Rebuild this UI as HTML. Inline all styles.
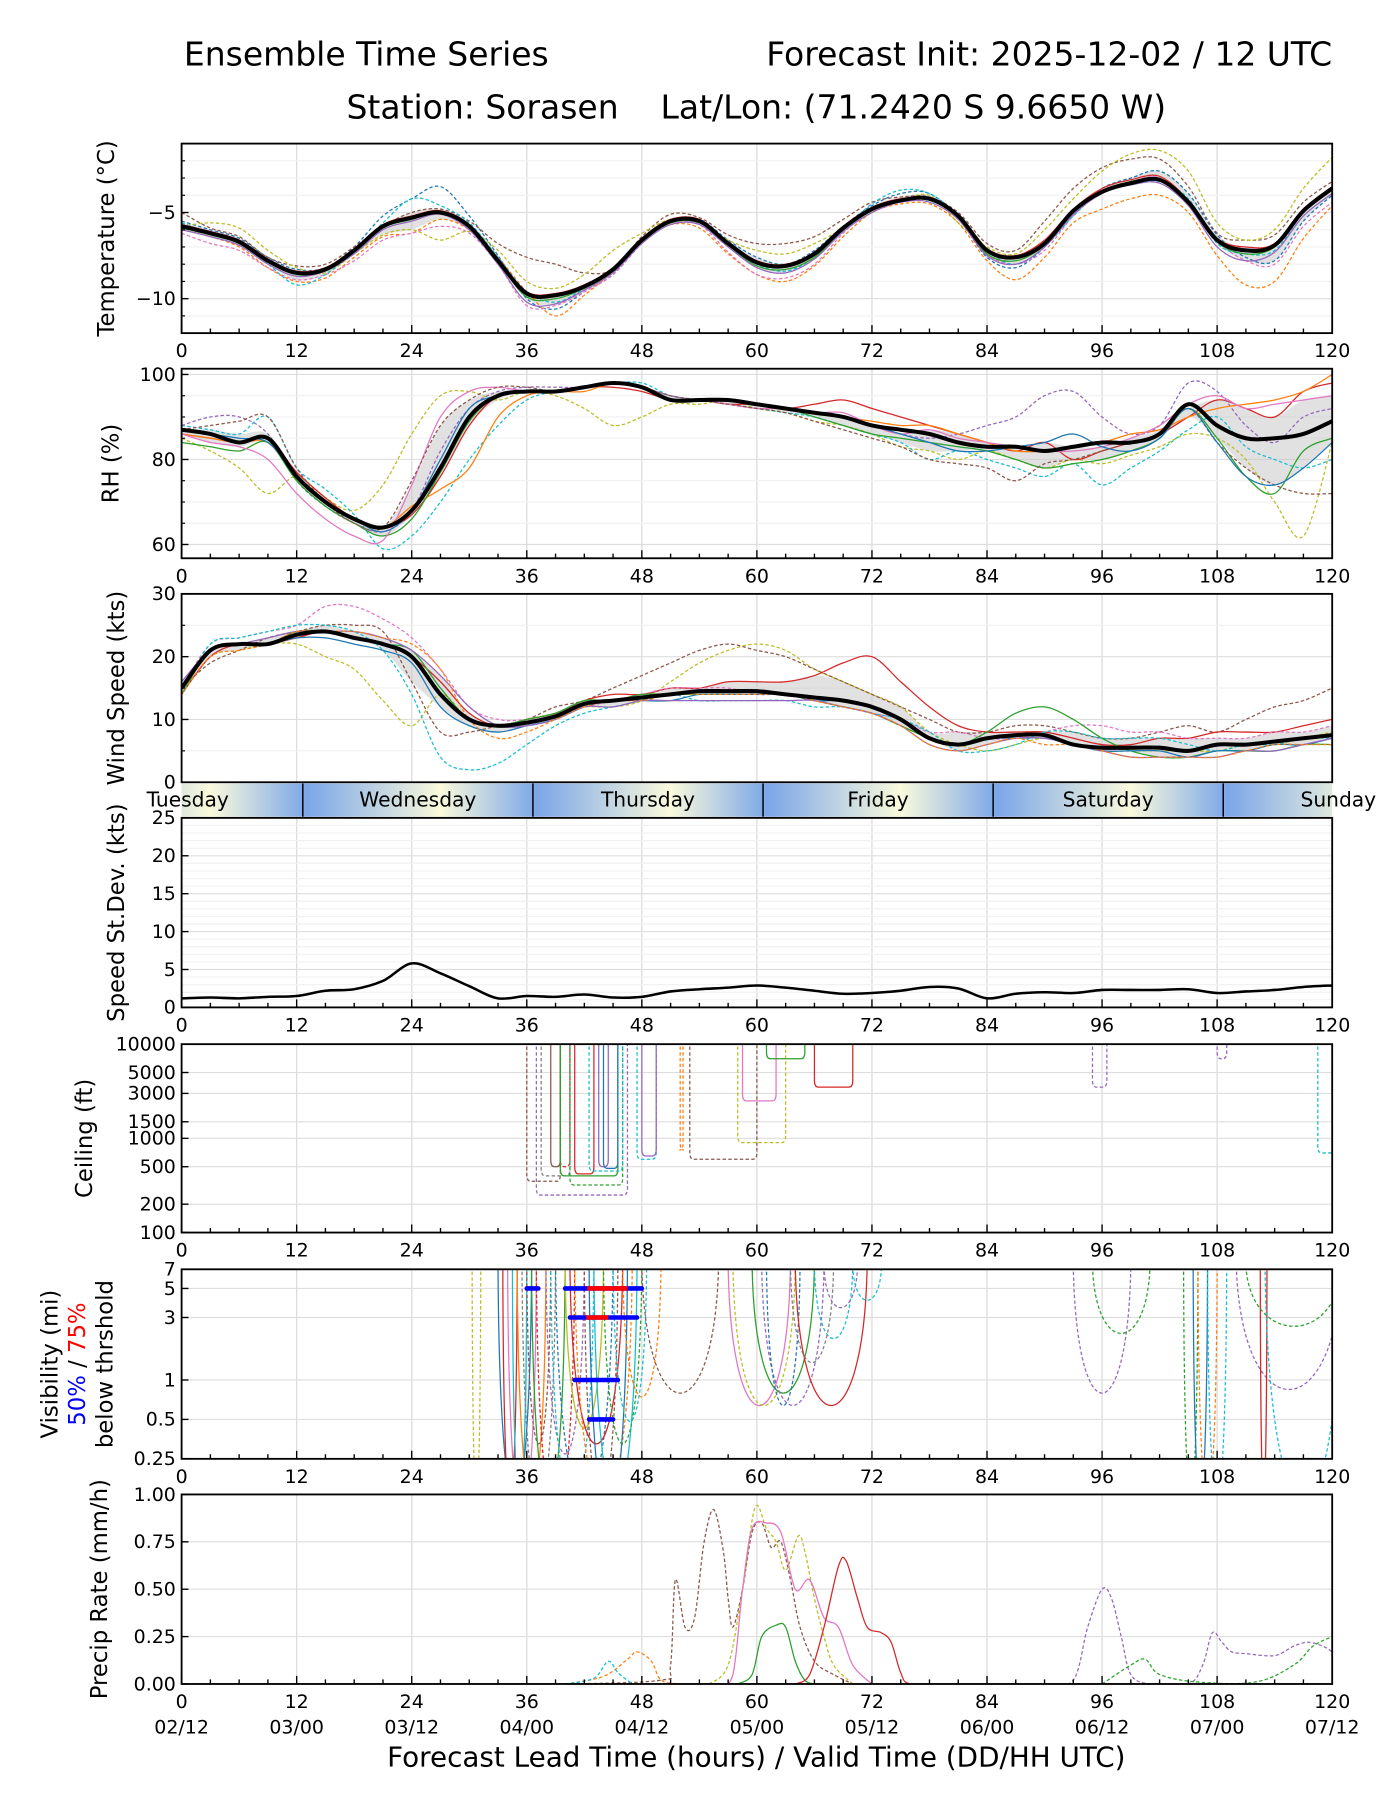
<!DOCTYPE html>
<html><head><meta charset="utf-8"><title>Ensemble Time Series</title>
<style>
html,body{margin:0;padding:0;background:#fff;}
svg{display:block;font-family:"DejaVu Sans","Liberation Sans",sans-serif;}
</style></head>
<body>
<svg id="chart" width="1400" height="1800" viewBox="0 0 1218 1567" preserveAspectRatio="none" xmlns="http://www.w3.org/2000/svg">
<defs>
<linearGradient id="dayGrad" gradientUnits="userSpaceOnUse" x1="0" y1="0" x2="200.2" y2="0" spreadMethod="repeat" gradientTransform="translate(183)">
<stop offset="0" stop-color="#fafadc"/><stop offset="0.42" stop-color="#7ba6e8"/><stop offset="1" stop-color="#fafadc"/>
</linearGradient>
</defs>
<text x="160" y="57" font-size="28.7">Ensemble Time Series</text>
<text x="1159" y="57" font-size="28.7" text-anchor="end">Forecast Init: 2025-12-02 / 12 UTC</text>
<text x="658" y="103" font-size="28.7" text-anchor="middle">Station: Sorasen&#160;&#160;&#160;&#160;Lat/Lon: (71.2420 S 9.6650 W)</text>
<g id="root"></g>
</svg>
<script>
// ---- data (3-hourly, hours 0..120) ----
const hours3 = [0,3,6,9,12,15,18,21,24,27,30,33,36,39,42,45,48,51,54,57,60,63,66,69,72,75,78,81,84,87,90,93,96,99,102,105,108,111,114,117,120];
const xTicks = [0,12,24,36,48,60,72,84,96,108,120];
const dateLabels = ["02/12","03/00","03/12","04/00","04/12","05/00","05/12","06/00","06/12","07/00","07/12"];
const dayNames = ["Tuesday","Wednesday","Thursday","Friday","Saturday","Sunday"];
const tab = ["#1f77b4","#ff7f0e","#2ca02c","#d62728","#9467bd","#8c564b","#e377c2","#7f7f7f","#bcbd22","#17becf"];

const tempMean = [-5.8,-6.2,-6.7,-7.8,-8.5,-8.3,-7.2,-5.8,-5.3,-5.0,-5.8,-7.8,-9.7,-9.8,-9.3,-8.3,-6.6,-5.5,-5.5,-6.8,-7.9,-8.1,-7.4,-5.9,-4.8,-4.3,-4.2,-5.2,-7.2,-7.6,-6.8,-4.9,-3.8,-3.3,-3.1,-4.4,-6.6,-7.2,-6.9,-4.9,-3.6];
const tempM1 = [-5.5,-6.0,-6.5,-7.6,-8.3,-8.2,-7.0,-5.2,-4.2,-3.5,-5.2,-7.5,-10.0,-10.6,-9.6,-8.6,-6.8,-5.6,-5.4,-6.6,-7.6,-8.0,-7.2,-5.8,-4.6,-3.9,-3.9,-5.3,-7.6,-8.2,-7.0,-5.0,-3.6,-3.0,-2.6,-3.9,-6.3,-7.6,-7.8,-5.5,-4.0];
const tempM2 = [-6.0,-6.4,-7.0,-8.2,-9.0,-8.8,-7.6,-6.4,-6.2,-5.4,-6.0,-7.6,-9.6,-11.0,-9.8,-8.4,-6.6,-5.7,-5.9,-7.4,-8.6,-9.0,-8.1,-6.4,-5.0,-4.5,-4.5,-5.6,-7.8,-8.9,-7.6,-5.6,-4.8,-4.2,-4.0,-5.0,-7.5,-9.2,-9.0,-6.5,-4.6];
const tempM3 = [-5.0,-5.9,-6.4,-7.6,-8.1,-8.0,-7.0,-5.8,-5.0,-4.8,-5.5,-6.8,-7.6,-8.0,-8.5,-8.3,-6.4,-5.1,-5.3,-6.3,-6.8,-6.8,-6.4,-5.4,-4.4,-4.1,-4.1,-5.0,-6.8,-7.2,-5.5,-3.6,-2.4,-1.9,-1.9,-3.5,-6.2,-6.6,-6.3,-4.4,-3.2];
const tempM4 = [-5.8,-5.6,-5.9,-7.2,-8.2,-8.5,-7.4,-6.3,-6.0,-6.6,-6.1,-7.2,-9.0,-9.4,-8.6,-7.2,-6.2,-5.4,-5.6,-6.6,-7.2,-7.4,-6.8,-5.9,-4.7,-4.3,-4.0,-5.6,-7.0,-7.4,-6.0,-4.2,-2.6,-1.6,-1.4,-2.6,-5.6,-6.6,-6.0,-3.6,-1.8];
const tempM5 = [-6.2,-6.8,-7.2,-8.2,-8.9,-8.6,-7.8,-6.6,-6.2,-5.8,-6.2,-8.0,-10.4,-10.4,-9.6,-8.6,-6.8,-5.6,-5.7,-7.3,-8.6,-8.8,-8.0,-6.2,-4.8,-4.2,-4.2,-5.4,-7.4,-8.0,-7.2,-5.2,-3.8,-3.2,-3.0,-4.4,-6.6,-7.8,-8.0,-5.8,-4.4];
const tempM6 = [-5.6,-6.2,-6.8,-8.0,-9.2,-8.6,-7.2,-5.6,-4.2,-4.6,-5.6,-7.6,-9.6,-10.2,-9.4,-8.2,-6.6,-5.4,-5.5,-6.9,-8.0,-8.4,-7.6,-6.0,-4.5,-3.7,-3.9,-5.2,-7.2,-8.0,-7.0,-5.2,-3.8,-3.4,-3.2,-4.2,-6.8,-7.4,-7.2,-5.0,-3.6];
const tempM7 = [-5.9,-6.3,-6.8,-7.9,-8.6,-8.4,-7.3,-5.9,-5.4,-5.0,-5.9,-7.9,-9.9,-10.0,-9.4,-8.4,-6.7,-5.6,-5.6,-6.9,-8.1,-8.3,-7.6,-6.0,-4.9,-4.3,-4.3,-5.3,-7.4,-7.8,-6.9,-5.0,-3.8,-3.2,-3.1,-4.5,-6.7,-7.4,-7.0,-5.0,-3.7];
const tempM8 = [-5.7,-6.1,-6.6,-7.7,-8.4,-8.2,-7.1,-5.7,-5.2,-4.9,-5.7,-7.7,-9.6,-9.7,-9.2,-8.2,-6.5,-5.4,-5.4,-6.7,-7.8,-8.0,-7.3,-5.8,-4.7,-4.2,-4.2,-5.1,-7.1,-7.5,-6.6,-4.8,-3.6,-3.1,-2.9,-4.3,-6.5,-7.0,-6.8,-4.8,-3.5];
const tempM9 = [-6.0,-6.4,-6.9,-8.0,-8.7,-8.4,-7.4,-6.0,-5.5,-5.1,-6.0,-8.0,-10.2,-10.3,-9.5,-8.5,-6.8,-5.7,-5.7,-7.0,-8.2,-8.5,-7.7,-6.1,-5.0,-4.4,-4.4,-5.4,-7.5,-8.0,-7.0,-5.1,-3.9,-3.4,-3.3,-4.6,-7.0,-7.8,-7.3,-5.2,-3.9];

const rhMean = [87,86,84,85,76,70,66,64,68,78,90,95,96,96,97,98,97,94,94,94,93,92,91,90,88,87,86,84,83,83,82,83,84,84,86,93,88,85,85,86,89];
const rhM1 = [85,82,78,72,76,71,68,74,86,95,96,94,96,95,92,88,90,93,93,94,92,91,89,88,86,83,82,80,82,80,78,80,79,81,83,86,85,80,70,62,84];
const rhM2 = [88,87,86,90,78,73,67,59,62,70,80,88,94,96,97,98,98,95,94,93,92,91,90,88,86,84,80,82,80,78,76,79,74,78,82,87,90,83,80,78,80];
const rhM3 = [86,85,84,85,77,71,66,64,67,76,88,95,96,96,97,97,96,94,94,93,93,92,93,94,92,90,88,86,84,82,84,80,82,84,86,90,94,92,90,96,98];
const rhM4 = [88,90,90,86,75,69,65,63,68,82,92,96,97,97,97,98,97,95,94,94,93,92,91,90,88,86,85,86,88,90,95,96,90,86,88,98,96,88,84,90,92];
const rhM5 = [86,85,84,84,76,70,66,64,69,73,78,90,95,96,96,98,97,94,94,94,93,92,91,90,89,88,88,86,84,82,82,83,84,86,87,90,92,93,94,96,100];
const rhM6 = [84,83,82,84,75,69,65,62,66,77,89,95,96,96,97,98,97,94,94,94,93,92,90,88,86,85,84,83,82,80,78,79,80,82,85,92,85,76,72,82,85];
const rhM7 = [86,84,83,80,72,66,62,61,74,90,96,97,96,96,97,98,97,94,94,93,92,92,91,91,88,86,87,85,84,83,82,82,83,85,88,93,95,92,93,94,95];
const rhM8 = [87,88,89,90,78,70,65,64,75,88,94,97,97,96,97,98,97,95,94,93,92,91,89,87,85,83,80,79,78,75,79,80,82,84,86,92,84,78,74,72,72];
const rhM9 = [87,86,85,84,76,70,66,63,68,80,92,95,96,96,97,98,97,94,94,94,93,92,91,90,88,86,84,82,82,83,84,86,83,82,85,92,84,76,74,78,84];

const windMean = [15,21,22,22,23.5,24,23,22,20,14,10,9,9.5,10.5,12.5,13,13.5,14,14.5,14.5,14.5,14,13.5,13,12,10,7,6,7,7.5,7.5,6,5.5,5.5,5.5,5,6,6,6.5,7,7.5];
const windM1 = [14,20,21,22,22,20,18,13,9,14,10,9,10,11,12,12,13,16,19,21,22,21,18,16,14,12,8,6,5,6,7,6,5,5,5,5,5,6,6,7,8];
const windM2 = [15,19,21,23,24,25,25,24,16,8,8,9,10,12,13,15,17,19,21,22,21,20,18,16,14,12,10,8,8,9,9,8,7,7,8,9,8,10,12,13,15];
const windM3 = [14,20,22,22,23,24,23,22,20,16,11,9,10,11,13,14,14,15,15,16,16,16,17,19,20,16,12,9,8,8,8,7,6,6,7,7,8,8,8,9,10];
const windM4 = [15,22,23,24,25,28,28,26,23,18,12,10,10,11,12,13,14,15,15,15,14,14,13,12,11,10,8,8,7,7,8,9,9,8,8,7,7,7,8,8,9];
const windM5 = [14,21,22,22,24,24,23,22,21,15,10,9,10,11,13,13,14,14,14,14,14,14,13,12,11,9,7,6,8,11,12,10,7,5,4,4,5,5,5,6,6];
const windM6 = [14,22,23,24,25,25,24,21,14,4,2,3,6,9,11,12,13,14,13,13,13,13,12,12,11,10,8,5,5,6,8,8,7,7,7,6,5,6,6,7,7];
const windM7 = [15,21,22,22,23,23,22,21,19,12,9,8,9,10,12,13,13,13,14,14,14,14,13,13,12,10,7,6,7,7,7,6,5,5,5,4,5,5,6,6,7];
const windM8 = [16,21,22,23,24,24,24,23,21,17,12,9,9,10,12,12,13,13,13,13,13,13,13,12,11,9,6,5,6,7,7,6,5,4,4,4,4,5,5,6,7];
const windM9 = [14,20,21,22,24,24,24,23,22,18,10,7,8,10,12,13,13,14,14,14,14,14,13,12,11,9,6,5,6,7,6,6,5,4,4,4,4,5,6,6,6];

const stdDev = [1.2,1.3,1.2,1.4,1.5,2.2,2.4,3.5,5.8,4.5,2.8,1.2,1.5,1.4,1.7,1.3,1.4,2.1,2.4,2.6,2.9,2.6,2.2,1.8,1.9,2.2,2.7,2.5,1.2,1.8,2.0,1.9,2.3,2.3,2.3,2.4,1.9,2.1,2.3,2.7,2.9];

// ceiling events: start hour, end hour, lowest ceiling (ft), colour index, dashed
const ceilStart = [36.0,37.0,38.5,37.5,39.5,39.5,40.5,41.0,42.5,43.5,44.0,47.5,48.0,52.0,53.0,58.0,58.5,61.0,66.0,95.0,108.0,118.5];
const ceilEnd   = [39.5,46.5,39.5,40.5,40.5,45.5,46.0,43.0,46.0,44.5,45.5,49.5,49.5,52.3,60.0,63.0,62.0,65.0,70.0,96.5,109.0,120.5];
const ceilLow   = [350,250,500,400,500,400,320,420,450,500,480,600,650,750,600,900,2500,7000,3500,3500,7000,700];
const ceilColor = [5,4,5,7,3,2,2,3,9,4,0,9,4,1,5,8,6,2,3,4,4,9];
const ceilDash  = [1,1,0,1,1,0,1,0,1,0,0,1,0,1,1,1,0,0,0,1,1,1];

// visibility events
const visStart = [30.3,33,33.5,34,34.5,35,35.5,36,36.5,37,38,38.5,39,40,40.5,41,42,42.5,43,44,45,46,48,57,57.5,59.5,60.5,61,64,63.5,66,67,70,93,95,104.5,105.5,106,107,110,112.5,111,113];
const visEnd   = [31.2,36.5,35,37,36,38,39,38.5,40,41,42,43,45,44,46,47,45.5,46.5,47.5,48,48.5,50,56,63.5,64,66,67,64.5,71.5,68,70,70.5,73,99,101,106,107,108,109,121,113.2,121,121];
const visLow   = [0.2,0.2,0.2,0.15,0.2,0.22,0.2,0.3,0.2,0.15,0.25,0.2,0.2,0.4,0.3,0.2,0.2,0.15,0.2,0.3,0.45,0.7,0.75,0.6,0.6,0.75,0.6,0.6,0.6,1.3,2,3.5,4,0.75,2.2,0.2,0.2,0.2,0.2,0.8,0.2,2.5,0.2];
const visColor = [8,0,3,6,9,1,7,5,2,3,4,9,0,8,3,1,5,0,9,2,9,1,5,6,8,2,4,0,3,7,9,4,9,4,2,2,0,1,9,4,3,2,9];
const visDash  = [1,0,0,0,0,0,1,1,0,1,1,1,1,0,0,1,1,0,0,1,1,1,1,0,1,0,1,1,0,1,1,1,1,1,1,1,0,1,1,1,0,1,1];

// probability threshold bars: vis level, start, end
const thrBlueLevel = [5,5,3,1,0.5];
const thrBlueStart = [36,40,40.5,41,42.5];
const thrBlueEnd   = [37.2,48,47.5,45.5,45];
const thrRedLevel = [5,3];
const thrRedStart = [42.3,42.2];
const thrRedEnd   = [46.5,44.5];

// precipitation members: [hour, mm/h] pairs
const pBrown = [[40,0],[50,0.02],[51,0.1],[51.5,0.55],[52.5,0.3],[53.5,0.35],[54.5,0.75],[55.5,0.92],[56.5,0.7],[57,0.45],[57.5,0.3],[58.5,0.5],[59.5,0.8],[60.5,0.85],[61.5,0.72],[62.5,0.75],[63.5,0.55],[64.5,0.3],[66,0.12],[68,0.05],[70,0]];
const pOlive = [[55,0],[57,0.1],[58.5,0.5],[59.8,0.93],[61,0.82],[62,0.75],[63,0.6],[64.3,0.78],[65,0.7],[66,0.45],[67,0.25],[68,0.1],[70,0]];
const pPink = [[56,0],[57.5,0.05],[58.5,0.5],[59.5,0.82],[61,0.85],[62.5,0.8],[64,0.5],[65.5,0.55],[67,0.35],[68.5,0.3],[70,0.1],[72,0]];
const pGreen = [[58,0],[59.5,0.05],[60.5,0.25],[62,0.31],[63,0.3],[64,0.12],[65,0.02],[66,0]];
const pRed = [[64,0],[65.5,0.05],[67,0.3],[68.5,0.62],[69.3,0.65],[70.5,0.45],[71.5,0.3],[73,0.27],[74,0.22],[75,0.06],[76,0],[80,0]];
const pPurple = [[90,0],[93,0.02],[94.5,0.3],[96,0.5],[97,0.45],[98,0.25],[99,0.05],[101,0],[105,0],[106.5,0.1],[107.5,0.27],[108.5,0.22],[109.5,0.17],[111,0.16],[114,0.15],[116,0.2],[117.5,0.22],[119,0.2],[120,0.17]];
const pOrange = [[40,0],[44,0.04],[46.5,0.13],[47.5,0.17],[49,0.12],[50,0.02],[52,0]];
const pGreenD = [[96,0],[99,0.1],[100.5,0.13],[102,0.05],[106,0.01],[112,0.01],[116,0.1],[118,0.2],[120,0.25]];
const pCyan = [[40,0],[43,0.03],[44.5,0.12],[45.5,0.06],[47,0]];

// ---- drawing ----
const NS = "http://www.w3.org/2000/svg";
const root = document.getElementById("root");
const X0 = 158, X1 = 1159;
const FS_TICK = 16.5, FS_LABEL = 19.8;
function xs(h){ return X0 + h/120*(X1-X0); }
function mk(tag, attrs, parent){ const e = document.createElementNS(NS, tag); for (const k in attrs) e.setAttribute(k, attrs[k]); (parent||root).appendChild(e); return e; }
function curve(pts){
  if (!pts.length) return "";
  let d = "M" + pts[0][0].toFixed(1) + "," + pts[0][1].toFixed(1);
  for (let i=0;i<pts.length-1;i++){
    const p0 = pts[i-1]||pts[i], p1=pts[i], p2=pts[i+1], p3=pts[i+2]||p2;
    const c1x = p1[0]+(p2[0]-p0[0])/6, c1y = p1[1]+(p2[1]-p0[1])/6;
    const c2x = p2[0]-(p3[0]-p1[0])/6, c2y = p2[1]-(p3[1]-p1[1])/6;
    d += " C"+c1x.toFixed(1)+","+c1y.toFixed(1)+" "+c2x.toFixed(1)+","+c2y.toFixed(1)+" "+p2[0].toFixed(1)+","+p2[1].toFixed(1);
  }
  return d;
}
let clipN = 0;
function makePanel(name, top, bot, ymin, ymax, log){
  const ys = log ? (v => bot - (Math.log(v)-Math.log(ymin))/(Math.log(ymax)-Math.log(ymin))*(bot-top))
                 : (v => bot - (v-ymin)/(ymax-ymin)*(bot-top));
  const g = mk("g", {});
  
  
  const id = "clip" + (clipN++);
  const cp = mk("clipPath", {id:id}, g);
  mk("rect", {x:X0, y:top, width:X1-X0, height:bot-top}, cp);
  const grid = mk("g", {}, g);
  
  
  for (const t of xTicks){ mk("line", {x1:xs(t), x2:xs(t), y1:top, y2:bot, stroke:"#dedede", "stroke-width":1.2}, grid); }
  const plot = mk("g", {"clip-path":"url(#"+id+")"}, g);
  
  
  return {g, grid, plot, ys, top, bot};
}
function yGrid(p, vals, color){ for (const v of vals){ mk("line", {x1:X0, x2:X1, y1:p.ys(v), y2:p.ys(v), stroke:color, "stroke-width":1}, p.grid); } }
function yTicks(p, vals, labels, name){
  const ax = mk("g", {}, p.g);
  
  
  vals.forEach((v,i)=>{
    mk("line", {x1:X0, x2:X0+6, y1:p.ys(v), y2:p.ys(v), stroke:"#000", "stroke-width":1.2}, ax);
    const t = mk("text", {x:X0-5, y:p.ys(v)+5.5, "font-size":FS_TICK, "text-anchor":"end"}, ax);
    t.textContent = labels[i];
  });
}
function minorY(p, vals){ for (const v of vals){ mk("line", {x1:X0, x2:X0+3, y1:p.ys(v), y2:p.ys(v), stroke:"#000", "stroke-width":1}, p.g); } }
function xAxis(p, name, withDates){
  const ax = mk("g", {}, p.g);
  
  
  for (let h=0; h<=120; h+=3){
    const major = h%12===0;
    mk("line", {x1:xs(h), x2:xs(h), y1:p.bot, y2:p.bot-(major?7:4), stroke:"#000", "stroke-width":1.2}, ax);
  }
  xTicks.forEach((t,i)=>{
    const tx = mk("text", {x:xs(t), y:p.bot+21, "font-size":FS_TICK, "text-anchor":"middle"}, ax);
    tx.textContent = String(t);
    if (withDates){
      const d = mk("text", {x:xs(t), y:p.bot+43, "font-size":FS_TICK, "text-anchor":"middle"}, ax);
      d.textContent = dateLabels[i];
    }
  });
}
function frame(p){ mk("rect", {x:X0, y:p.top, width:X1-X0, height:p.bot-p.top, fill:"none", stroke:"#000", "stroke-width":1.6}, p.g); }
function yLabel(p, text, x, name){
  const cy = (p.top+p.bot)/2;
  const t = mk("text", {x:x, y:cy, "font-size":FS_LABEL, "text-anchor":"middle", transform:"rotate(-90 "+x+" "+cy+")"}, p.g);
  
  
  t.textContent = text;
  return t;
}
function seriesPts(p, arr){ return arr.map((v,i)=>[xs(hours3[i]), p.ys(v)]); }
function drawMember(p, arr, color, dashed, name){
  const e = mk("path", {d:curve(seriesPts(p, arr)), fill:"none", stroke:color, "stroke-width":1.1, "stroke-dasharray":dashed?"3,2":"none"}, p.plot);
  
  
}
function drawBand(p, members, name){
  const lo = [], hi = [];
  for (let i=0;i<hours3.length;i++){
    const s = members.map(m=>m[i]).sort((a,b)=>a-b);
    lo.push(s[Math.floor(s.length*0.25)]); hi.push(s[Math.ceil(s.length*0.75)-1]);
  }
  const up = seriesPts(p, hi), dn = seriesPts(p, lo).reverse();
  const d = curve(up) + " L" + dn[0][0] + "," + dn[0][1] + curve(dn).slice(curve(dn).indexOf(" ")) + " Z";
  const e = mk("path", {d:d, fill:"#c8c8c8", "fill-opacity":0.55, stroke:"none"}, p.plot);
  
  
}
function drawMean(p, arr, name, w){
  const e = mk("path", {d:curve(seriesPts(p, arr)), fill:"none", stroke:"#000", "stroke-width":w||3.5, "stroke-linejoin":"round"}, p.plot);
  
  
}
const memberColors = [tab[0],tab[1],tab[5],tab[8],tab[6],tab[9],tab[2],tab[3],tab[4]];
const memberDash = [1,1,1,1,1,1,0,0,0];

// Panel 1 temperature
const pT = makePanel("temperature", 125, 290, -12, -1, false);
yGrid(pT, [-11,-9,-8,-7,-6,-4,-3,-2], "#f0f0f0"); yGrid(pT, [-10,-5], "#dedede");
const tempMembers = [tempM1,tempM2,tempM3,tempM4,tempM5,tempM6,tempM7,tempM8,tempM9];
drawBand(pT, tempMembers, "temperature-spread-band");
tempMembers.forEach((m,i)=>drawMember(pT, m, memberColors[i], memberDash[i], "temperature-member-"+(i+1)));
drawMean(pT, tempMean, "temperature-mean-line");
frame(pT); yTicks(pT, [-10,-5], ["\u221210","\u22125"], "temperature"); minorY(pT,[-11,-9,-8,-7,-6,-4,-3,-2]);
xAxis(pT, "temperature", false); yLabel(pT, "Temperature (\u00b0C)", 99, "temperature-y-axis-title");

// Panel 2 RH
const pR = makePanel("rh", 321, 486, 56.76, 101.35, false);
yGrid(pR, [65,70,75,85,90,95], "#f0f0f0"); yGrid(pR, [60,80,100], "#dedede");
const rhMembers = [rhM1,rhM2,rhM3,rhM4,rhM5,rhM6,rhM7,rhM8,rhM9];
const rhColors = [tab[8],tab[9],tab[3],tab[4],tab[1],tab[2],tab[6],tab[5],tab[0]];
const rhDash = [1,1,0,1,0,0,0,1,0];
drawBand(pR, rhMembers, "rh-spread-band");
rhMembers.forEach((m,i)=>drawMember(pR, m, rhColors[i], rhDash[i], "rh-member-"+(i+1)));
drawMean(pR, rhMean, "rh-mean-line");
frame(pR); yTicks(pR, [60,80,100], ["60","80","100"], "rh"); minorY(pR,[65,70,75,85,90,95]);
xAxis(pR, "rh", false); yLabel(pR, "RH (%)", 103, "rh-y-axis-title");

// Panel 3 wind
const pW = makePanel("wind-speed", 517, 681, 0, 30, false);
yGrid(pW, [5,15,25], "#f0f0f0"); yGrid(pW, [10,20], "#dedede");
const windMembers = [windM1,windM2,windM3,windM4,windM5,windM6,windM7,windM8,windM9];
const windColors = [tab[8],tab[5],tab[3],tab[6],tab[2],tab[9],tab[0],tab[4],tab[1]];
const windDash = [1,1,0,1,0,1,0,0,1];
drawBand(pW, windMembers, "wind-spread-band");
windMembers.forEach((m,i)=>drawMember(pW, m, windColors[i], windDash[i], "wind-member-"+(i+1)));
drawMean(pW, windMean, "wind-mean-line");
frame(pW); yTicks(pW, [0,10,20,30], ["0","10","20","30"], "wind-speed"); minorY(pW,[5,15,25]);
yLabel(pW, "Wind Speed (kts)", 108, "wind-speed-y-axis-title");

// Day bar
(function(){
  const g = mk("g", {});
  
  
  mk("rect", {x:X0, y:682, width:X1-X0, height:29, fill:"url(#dayGrad)"}, g);
  const mid = 12.64;
  for (let k=0;k<5;k++){ mk("line", {x1:xs(mid+24*k), x2:xs(mid+24*k), y1:682, y2:711, stroke:"#000", "stroke-width":1.3}, g); }
  dayNames.forEach((dn,i)=>{
    const t = mk("text", {x:xs(mid-12+24*i), y:702, "font-size":17.6, "text-anchor":"middle"}, g);
    
    
    t.textContent = dn;
  });
})();

// Panel 4 std dev
const pS = makePanel("speed-stdev", 712, 877, 0, 25, false);
yGrid(pS, [1,2,3,4,6,7,8,9,11,12,13,14,16,17,18,19,21,22,23,24], "#f0f0f0"); yGrid(pS, [5,10,15,20], "#dedede");
drawMean(pS, stdDev, "speed-stdev-line", 2.2);
frame(pS); yTicks(pS, [0,5,10,15,20,25], ["0","5","10","15","20","25"], "speed-stdev");
xAxis(pS, "speed-stdev", false); yLabel(pS, "Speed St.Dev. (kts)", 108, "speed-stdev-y-axis-title");

// Panel 5 ceiling
const pC = makePanel("ceiling", 909, 1073, 100, 10000, true);
yGrid(pC, [200,500,1000,1500,3000,5000], "#dedede");
ceilStart.forEach((s,i)=>{
  const e = ceilEnd[i], low = ceilLow[i], top = pC.top - 3, yl = pC.ys(low);
  const d = "M"+xs(s)+","+top+" L"+xs(s)+","+(yl-6)+" Q"+xs(s)+","+yl+" "+xs(s+0.4)+","+yl+" L"+xs(e-0.4)+","+yl+" Q"+xs(e)+","+yl+" "+xs(e)+","+(yl-6)+" L"+xs(e)+","+top;
  const el = mk("path", {d:d, fill:"none", stroke:tab[ceilColor[i]], "stroke-width":1.1, "stroke-dasharray":ceilDash[i]?"3,2":"none"}, pC.plot);
  
  
});
frame(pC); yTicks(pC, [100,200,500,1000,1500,3000,5000,10000], ["100","200","500","1000","1500","3000","5000","10000"], "ceiling");
xAxis(pC, "ceiling", false); yLabel(pC, "Ceiling (ft)", 80, "ceiling-y-axis-title");

// Panel 6 visibility
const pV = makePanel("visibility", 1105, 1270, 0.25, 7, true);
yGrid(pV, [0.5,1,3,5], "#dedede");
visStart.forEach((s,i)=>{
  const e = visEnd[i], w = e-s, top = pV.top - 3;
  const yl = pV.ys(visLow[i]) + (visLow[i] < 0.25 ? 30 : 0);
  const d = "M"+xs(s)+","+top+" C"+xs(s+w*0.05)+","+(yl+ (yl-top)*0.3)+" "+xs(e-w*0.05)+","+(yl+(yl-top)*0.3)+" "+xs(e)+","+top;
  const el = mk("path", {d:d, fill:"none", stroke:tab[visColor[i]], "stroke-width":1.1, "stroke-dasharray":visDash[i]?"3,2":"none"}, pV.plot);
  
  
});
thrBlueLevel.forEach((lv,i)=>{
  const el = mk("line", {x1:xs(thrBlueStart[i]), x2:xs(thrBlueEnd[i]), y1:pV.ys(lv), y2:pV.ys(lv), stroke:"#0000ff", "stroke-width":4, "stroke-linecap":"round"}, pV.plot);
  
  
});
thrRedLevel.forEach((lv,i)=>{
  const el = mk("line", {x1:xs(thrRedStart[i]), x2:xs(thrRedEnd[i]), y1:pV.ys(lv), y2:pV.ys(lv), stroke:"#ff0000", "stroke-width":4}, pV.plot);
  
  
});
frame(pV); yTicks(pV, [0.25,0.5,1,3,5,7], ["0.25","0.5","1","3","5","7"], "visibility");
xAxis(pV, "visibility", false);
(function(){
  const cy = (pV.top+pV.bot)/2;
  const t1 = mk("text", {x:50, y:cy, "font-size":FS_LABEL, "text-anchor":"middle", transform:"rotate(-90 50 "+cy+")"}, pV.g);
  
  
  t1.textContent = "Visibility (mi)";
  const t2 = mk("text", {x:74, y:cy, "font-size":FS_LABEL, "text-anchor":"middle", transform:"rotate(-90 74 "+cy+")"}, pV.g);
  
  
  t2.innerHTML = '<tspan fill="#0000ff">50%</tspan> / <tspan fill="#ff0000">75%</tspan>';
  const t3 = mk("text", {x:98, y:cy, "font-size":FS_LABEL, "text-anchor":"middle", transform:"rotate(-90 98 "+cy+")"}, pV.g);
  
  
  t3.textContent = "below thrshold";
})();

// Panel 7 precip
const pP = makePanel("precip", 1301, 1466, 0, 1, false);
yGrid(pP, [0.25,0.5,0.75], "#dedede");
const precipMembers = [pBrown,pOlive,pPink,pGreen,pRed,pPurple,pOrange,pGreenD,pCyan];
const precipColors = [tab[5],tab[8],tab[6],tab[2],tab[3],tab[4],tab[1],tab[2],tab[9]];
const precipDash = [1,1,0,0,0,1,1,1,1];
precipMembers.forEach((m,i)=>{
  const el = mk("path", {d:curve(m.map(q=>[xs(q[0]), pP.ys(q[1])])), fill:"none", stroke:precipColors[i], "stroke-width":1.1, "stroke-dasharray":precipDash[i]?"3,2":"none"}, pP.plot);
  
  
});
frame(pP); yTicks(pP, [0,0.25,0.5,0.75,1], ["0.00","0.25","0.50","0.75","1.00"], "precip");
xAxis(pP, "precip", true); yLabel(pP, "Precip Rate (mm/h)", 93, "precip-y-axis-title");

const xl = mk("text", {x:658, y:1538, "font-size":24.2, "text-anchor":"middle"});


xl.textContent = "Forecast Lead Time (hours) / Valid Time (DD/HH UTC)";
</script>
</body></html>
